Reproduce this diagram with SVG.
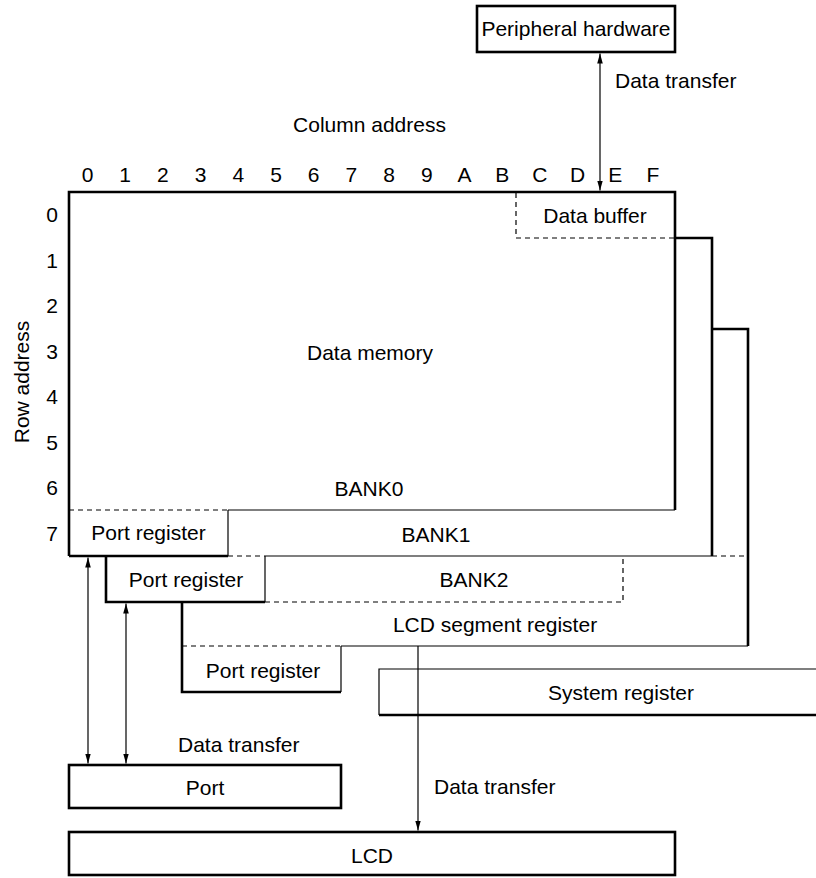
<svg xmlns="http://www.w3.org/2000/svg" width="816" height="878" viewBox="0 0 816 878">
<defs>
<style>
text{font-family:"Liberation Sans",Arial,Helvetica,sans-serif;font-size:21px;fill:#000}
.m{text-anchor:middle}
.k{fill:none;stroke:#000;stroke-width:2.6}
.t{fill:none;stroke:#000;stroke-width:1.2}
.d{fill:none;stroke:#000;stroke-width:1.2;stroke-dasharray:5 4}
.a{fill:none;stroke:#000;stroke-width:1.2}
</style>
<marker id="ah" viewBox="0 0 10 10" refX="10" refY="5" markerWidth="10" markerHeight="10" markerUnits="userSpaceOnUse" orient="auto-start-reverse">
<path d="M0,2.2 L10,5 L0,7.8 Z" fill="#000"/>
</marker>
</defs>
<rect width="816" height="878" fill="#fff"/>

<g id="axes">
<text class="m" x="369.5" y="132">Column address</text>
<g class="m">
<text class="m" x="87.5" y="182">0</text>
<text class="m" x="125.2" y="182">1</text>
<text class="m" x="162.9" y="182">2</text>
<text class="m" x="200.6" y="182">3</text>
<text class="m" x="238.3" y="182">4</text>
<text class="m" x="276" y="182">5</text>
<text class="m" x="313.7" y="182">6</text>
<text class="m" x="351.4" y="182">7</text>
<text class="m" x="389.1" y="182">8</text>
<text class="m" x="426.8" y="182">9</text>
<text class="m" x="464.5" y="182">A</text>
<text class="m" x="502.2" y="182">B</text>
<text class="m" x="539.9" y="182">C</text>
<text class="m" x="577.6" y="182">D</text>
<text class="m" x="615.3" y="182">E</text>
<text class="m" x="653" y="182">F</text>
</g>
<text class="m" x="52" y="222">0</text>
<text class="m" x="52" y="267.5">1</text>
<text class="m" x="52" y="313">2</text>
<text class="m" x="52" y="358.5">3</text>
<text class="m" x="52" y="404">4</text>
<text class="m" x="52" y="449.5">5</text>
<text class="m" x="52" y="495">6</text>
<text class="m" x="52" y="540.5">7</text>
<text class="m" transform="translate(28.5,382) rotate(-90)">Row address</text>
</g>

<g id="peripheral-hardware">
<rect class="k" x="477" y="6" width="198" height="46"/>
<text class="m" x="576" y="36">Peripheral hardware</text>
</g>

<g id="bank0">
<path class="k" d="M69,556 L69,192 L675,192 L675,510"/>
<path class="t" d="M228,510 L675,510"/>
<path class="d" d="M69,510 L228,510"/>
<text class="m" x="370" y="360">Data memory</text>
<text class="m" x="369" y="496">BANK0</text>
</g>

<g id="data-buffer">
<path class="d" d="M516,193 L516,238 L675,238"/>
<text class="m" x="595" y="223">Data buffer</text>
</g>

<g id="port-register-0">
<path class="k" d="M69,556 L228,556"/>
<path class="t" d="M228,510 L228,556"/>
<text class="m" x="148.5" y="540">Port register</text>
</g>

<g id="bank1">
<path class="k" d="M675,238 L712,238 L712,556"/>
<path class="t" d="M265,556 L712,556"/>
<path class="d" d="M228,556 L265,556"/>
<text class="m" x="436" y="542">BANK1</text>
</g>

<g id="port-register-1">
<path class="k" d="M106,556 L106,602 L265,602"/>
<path class="t" d="M265,556 L265,602"/>
<text class="m" x="186" y="587">Port register</text>
</g>

<g id="bank2">
<path class="d" d="M265,602 L623,602 L623,557"/>
<path class="d" d="M712,556 L748,556"/>
<text class="m" x="474" y="587">BANK2</text>
</g>

<g id="lcd-segment-register">
<path class="k" d="M712,329 L748,329 L748,646"/>
<path class="t" d="M341,646 L748,646"/>
<path class="d" d="M182,646 L341,646"/>
<text class="m" x="495" y="632">LCD segment register</text>
</g>

<g id="port-register-2">
<path class="k" d="M182,602 L182,692 L341,692"/>
<path class="t" d="M341,646 L341,692"/>
<text class="m" x="263" y="678">Port register</text>
</g>

<g id="system-register">
<path class="t" d="M816,669 L379,669 L379,715"/>
<path class="k" d="M379,715 L816,715"/>
<text class="m" x="621" y="700">System register</text>
</g>

<g id="port">
<rect class="k" x="69" y="765" width="272" height="43"/>
<text class="m" x="205" y="795">Port</text>
</g>

<g id="lcd">
<rect class="k" x="69" y="832" width="606" height="43"/>
<text class="m" x="372" y="863">LCD</text>
</g>

<g id="connectors">
<line class="a" x1="600" y1="53.5" x2="600" y2="190.5" marker-start="url(#ah)" marker-end="url(#ah)"/>
<line class="a" x1="88" y1="557.5" x2="88" y2="763.5" marker-start="url(#ah)" marker-end="url(#ah)"/>
<line class="a" x1="126" y1="603.5" x2="126" y2="763.5" marker-start="url(#ah)" marker-end="url(#ah)"/>
<line class="a" x1="418" y1="646" x2="418" y2="830.5" marker-end="url(#ah)"/>
<text x="615" y="88">Data transfer</text>
<text x="178" y="752">Data transfer</text>
<text x="434" y="794">Data transfer</text>
</g>
</svg>
